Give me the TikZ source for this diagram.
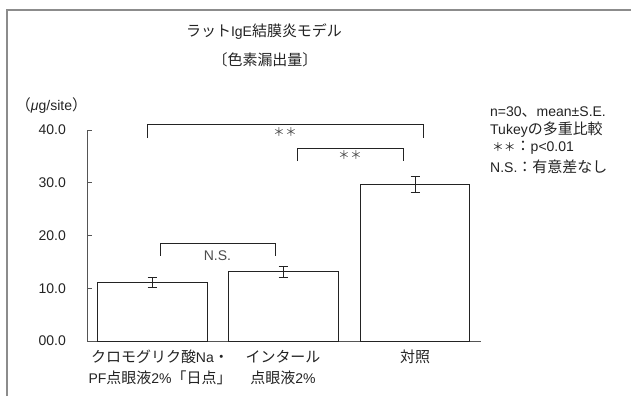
\documentclass[tikz,border=0pt]{standalone}
\usepackage{fontspec}
\setmainfont{Liberation Sans}
\newfontfamily\jpFont[Scale=1.07]{Noto Sans CJK JP}
\usetikzlibrary{positioning}
\definecolor{frameColor}{RGB}{140,140,140}
\definecolor{axisColor}{RGB}{85,85,85}
\definecolor{inkColor}{RGB}{35,35,35}
\tikzstyle{chart} = [x = 1pt, y = -1pt, every node/.style={font=\fontsize{14}{21}\selectfont, text=inkColor, inner sep=0pt}]
\tikzstyle{frameLine} = [color=frameColor, line width=2pt]
\tikzstyle{axisLine} = [color=axisColor, line width=1pt]
\tikzstyle{barStyle} = [draw=inkColor, fill=white, line width=0.9pt]
\tikzstyle{errStyle} = [color=inkColor, line width=0.9pt]
\tikzstyle{bracketStyle} = [color=inkColor, line width=0.9pt]
\tikzstyle{sigText} = [text=black!70]
\newcommand{\twoStars}{{\jpFont\fontsize{11}{13}\selectfont ＊＊}}
\newcommand{\baseY}{341}
\newcommand{\unitY}{5.275}
\newcommand{\dataBar}[3]{\draw [barStyle] (#1, \baseY) rectangle (#2, {\baseY - \unitY * #3});}
\newcommand{\errorBar}[3]{
  \draw [errStyle] (#1, {\baseY - \unitY * (#2 - #3)}) -- (#1, {\baseY - \unitY * (#2 + #3)});
  \draw [errStyle] (#1 - 4.5, {\baseY - \unitY * (#2 - #3)}) -- + (9, 0);
  \draw [errStyle] (#1 - 4.5, {\baseY - \unitY * (#2 + #3)}) -- + (9, 0);
}
\newcommand{\sigBracket}[7]{
  \draw [bracketStyle] (#2, #4 + #5) -- (#2, #4) -- (#3, #4) -- (#3, #4 + #5);
  \node [sigText] (#1) at ({(#2 + #3) / 2}, #6) {#7};
}
\newcommand{\axisLines}{
  \draw [axisLine] (87, 130) -- (87, \baseY) -- (481, \baseY);
  \foreach \k in {0,...,4} {
    \pgfmathsetmacro{\tickY}{\baseY - \unitY * 10 * \k}
    \draw [axisLine] (87, \tickY) -- + (5, 0);
    \node [anchor=east] (tick\k) at (66, \tickY) {\k0.0};
  }
}

\begin{document}
\begin{tikzpicture}[chart]
  \useasboundingbox (0,0) rectangle (631,396);
  \draw [frameLine] (7,396) -- (7,10) -- (631,10);

  \node (title) at (264,32) {{\jpFont ラット}IgE{\jpFont 結膜炎モデル}};
  \node (subtitle) at (265,60) {\jpFont 〔色素漏出量〕};
  \node (unit) at (51.5,106) {{\jpFont （}{\itshape μ}g/site{\jpFont ）}};

  \axisLines
  \dataBar{97}{207}{11.1}
  \errorBar{152}{11.1}{1.0}
  \dataBar{228}{338}{13.1}
  \errorBar{283}{13.1}{1.1}
  \dataBar{360}{469}{29.7}
  \errorBar{415}{29.7}{1.5}

  \sigBracket{sigAll}{147}{423}{124}{14}{132}{\twoStars}
  \sigBracket{sigRef}{297}{403}{148}{13}{155}{\twoStars}
  \sigBracket{sigNS}{160}{275}{243}{12.5}{256}{N.S.}

  \node [align=center, anchor=north] (catCromo) at (160,350) {{\jpFont クロモグリク酸}Na{\jpFont ・}\\PF{\jpFont 点眼液}2\%{\jpFont 「日点」}};
  \node [align=center, anchor=north] (catIntal) at (283,350) {\jpFont インタール\\{\jpFont 点眼液}2\%};
  \node [anchor=north] (catCtrl) at (415,350) {\jpFont 対照};

  \node [anchor=west] (noteN) at (490,112) {n=30{\jpFont 、}mean±S.E.};
  \node [anchor=west] (noteTest) at (490,130) {Tukey{\jpFont の多重比較}};
  \node [anchor=west] (noteSig) at (492,148) {\twoStars{\jpFont ：}p<0.01};
  \node [anchor=west] (noteNS) at (490,167) {N.S.{\jpFont ：有意差なし}};
\end{tikzpicture}
\end{document}
